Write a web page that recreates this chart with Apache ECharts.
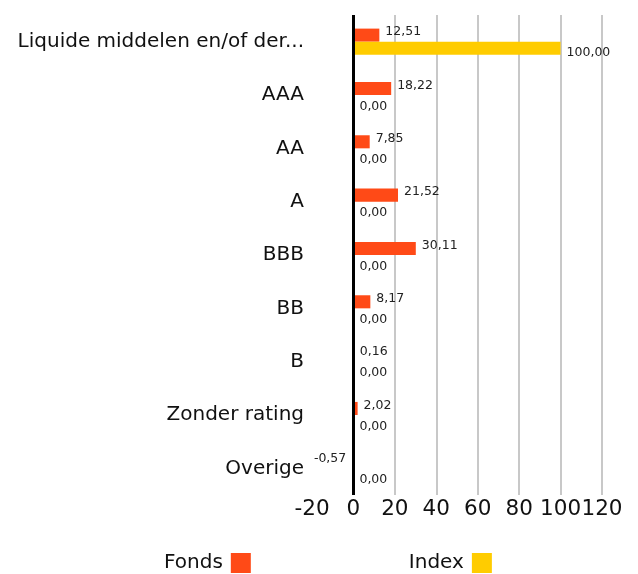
<!DOCTYPE html>
<html><head><meta charset="utf-8">
<script src="https://cdn.jsdelivr.net/npm/echarts@6/dist/echarts.min.js"></script>
<style>html,body{margin:0;padding:0;background:#fff}#c{width:638px;height:574px}</style>
</head><body><div id="c"></div>
<script>
const categories = ["Liquide middelen en/of der...", "AAA", "AA", "A", "BBB", "BB", "B", "Zonder rating", "Overige"];
const fondsValues = [12.51, 18.22, 7.85, 21.52, 30.11, 8.17, 0.16, 2.02, -0.57];
const indexValues = [100.00, 0, 0, 0, 0, 0, 0, 0, 0];
const xTicks = { min: -20, max: 120, interval: 20 };

const FONT = "'DejaVu Sans', sans-serif";
const fmt = v => v.toFixed(2).replace('.', ',');
function mk(vals, offY) {
  return vals.map(v => ({
    value: v,
    label: { position: v < 0 ? 'left' : 'right', offset: [0, offY] }
  }));
}
const chart = echarts.init(document.getElementById('c'), null, { renderer: 'canvas' });
chart.setOption({
  animation: false,
  textStyle: { fontFamily: FONT },
  grid: { left: 312, right: 36, top: 15, bottom: 79, containLabel: false },
  xAxis: {
    type: 'value', min: xTicks.min, max: xTicks.max, interval: xTicks.interval,
    axisLine: { show: false }, axisTick: { show: false },
    axisLabel: { fontSize: 21.5, color: '#111', margin: 3, fontFamily: FONT,
      showMinLabel: true, showMaxLabel: true, hideOverlap: false },
    splitLine: { show: true, showMinLine: false, lineStyle: { color: '#c8c8c8', width: 2 } }
  },
  yAxis: {
    type: 'category', data: categories, inverse: true,
    axisLine: { show: false }, axisTick: { show: false },
    axisLabel: { fontSize: 20, color: '#111', margin: 8, fontFamily: FONT }
  },
  legend: {
    top: 553, left: 164, padding: 0, itemGap: 158, align: 'right', icon: 'rect',
    itemWidth: 20, itemHeight: 20,
    textStyle: { fontSize: 20, color: '#111', fontFamily: FONT, padding: [0, 3, 0, 0] },
    data: ['Fonds', 'Index']
  },
  series: [
    {
      name: 'Fonds', type: 'bar', data: mk(fondsValues, -3),
      barGap: '0%', barCategoryGap: '51%',
      itemStyle: { color: '#FF4A17' },
      label: { show: true, distance: 6, fontSize: 12.5, color: '#222', fontFamily: FONT,
        formatter: p => fmt(p.value) },
      markLine: {
        silent: true, symbol: 'none', label: { show: false },
        lineStyle: { color: '#000', width: 3, type: 'solid' },
        data: [{ xAxis: 0 }]
      }
    },
    {
      name: 'Index', type: 'bar', data: mk(indexValues, 5),
      itemStyle: { color: '#FFCC00' },
      label: { show: true, distance: 6, fontSize: 12.5, color: '#222', fontFamily: FONT,
        formatter: p => fmt(p.value) }
    }
  ]
});
</script></body></html>
